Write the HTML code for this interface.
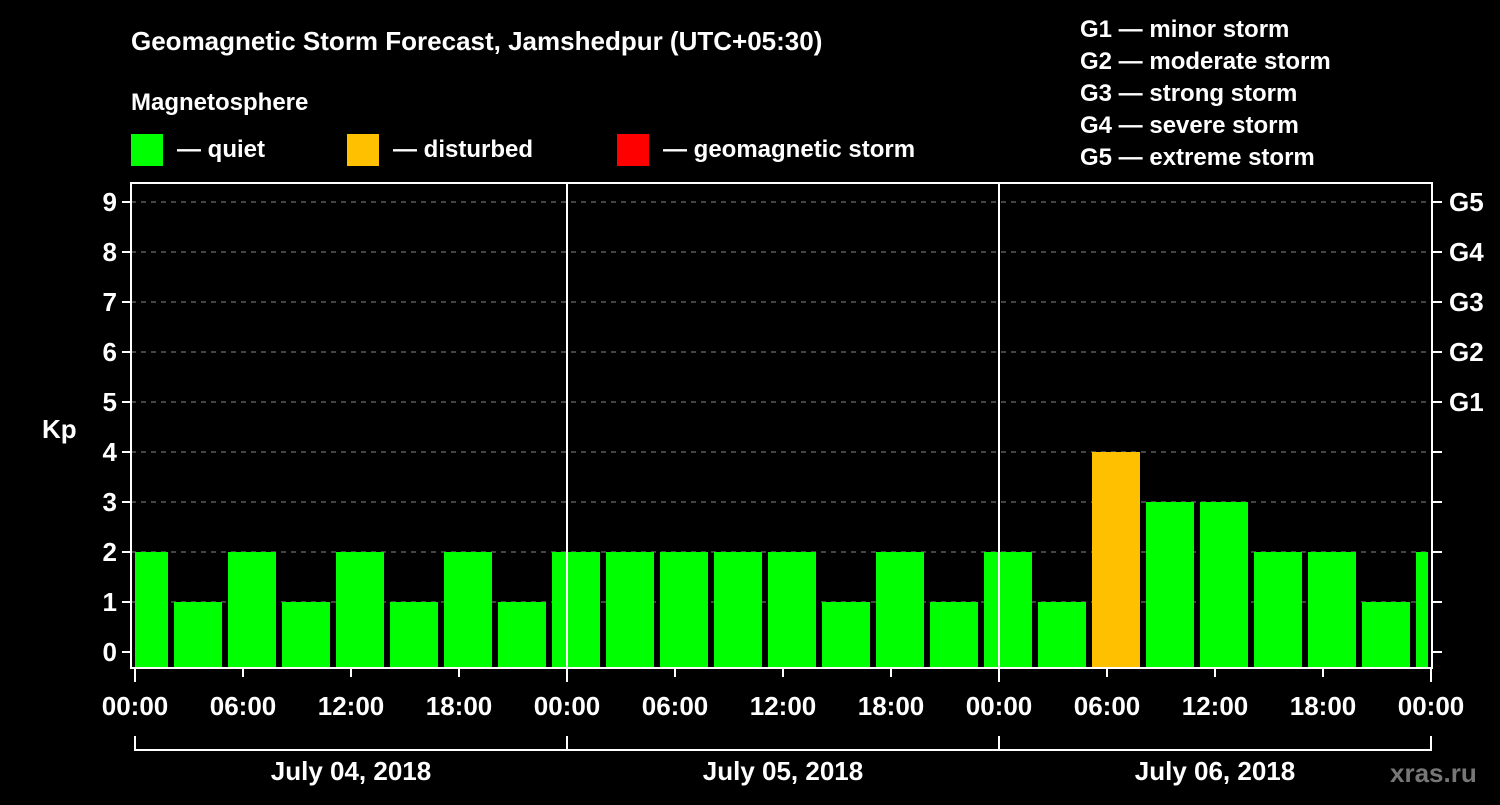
<!DOCTYPE html>
<html><head><meta charset="utf-8"><style>
body{margin:0;background:#000;}
svg text{font-family:"Liberation Sans",Arial,sans-serif;font-weight:bold;fill:#fff;}
</style></head><body>
<svg id="c" width="1500" height="800" xmlns="http://www.w3.org/2000/svg">
<rect width="1500" height="800" fill="#000"/>
<text x="131" y="50" font-size="26">Geomagnetic Storm Forecast, Jamshedpur (UTC+05:30)</text>
<text x="131" y="110" font-size="24">Magnetosphere</text>
<rect x="131" y="134" width="32" height="32" fill="#00ff00"/>
<text x="177" y="157" font-size="24">— quiet</text>
<rect x="347" y="134" width="32" height="32" fill="#ffc000"/>
<text x="393" y="157" font-size="24">— disturbed</text>
<rect x="617" y="134" width="32" height="32" fill="#ff0000"/>
<text x="663" y="157" font-size="24">— geomagnetic storm</text>
<g font-size="24">
<text x="1080" y="37">G1 — minor storm</text>
<text x="1080" y="69">G2 — moderate storm</text>
<text x="1080" y="101">G3 — strong storm</text>
<text x="1080" y="133">G4 — severe storm</text>
<text x="1080" y="165">G5 — extreme storm</text>
</g>
<text x="42" y="438" font-size="26">Kp</text>
<text x="1390" y="782" font-size="26" style="fill:#777">xras.ru</text>
<g id="g"></g>
</svg>
<script>
const kpValues=[2,1,2,1,2,1,2,1,2,2,2,2,2,1,2,1,2,1,4,3,3,2,2,1,2];
const yTicks=[0,1,2,3,4,5,6,7,8,9];
const gLabels=["G1","G2","G3","G4","G5"];
const xTickLabels=["00:00","06:00","12:00","18:00","00:00","06:00","12:00","18:00","00:00","06:00","12:00","18:00","00:00"];
const dayLabels=["July 04, 2018","July 05, 2018","July 06, 2018"];
const firstBarHour=-0.8333, barStepHours=3, barWidthHours=2.6667;
const X0=135,PXH=18,L=131,R=1432,T=183,B=668;
const x=h=>X0+h*PXH, y=v=>652-v*50;
const ns="http://www.w3.org/2000/svg",g=document.getElementById('g');
function mk(t,a,txt){const e=document.createElementNS(ns,t);for(const k in a)e.setAttribute(k,a[k]);if(txt!==undefined)e.textContent=txt;g.appendChild(e);return e;}
// clip
const cp=mk('clipPath',{id:'pc'});const cr=document.createElementNS(ns,'rect');cr.setAttribute('x',X0);cr.setAttribute('y',T);cr.setAttribute('width',1428-X0);cr.setAttribute('height',B-T);cp.appendChild(cr);
yTicks.forEach(v=>{
 if(v>0){const l=mk('line',{x1:L,x2:R,y1:y(v),y2:y(v),stroke:'#888','stroke-dasharray':'5,5','stroke-width':1});
 }
 const t=mk('line',{x1:L-9,x2:L,y1:y(v),y2:y(v),stroke:'#fff','stroke-width':2});
 
 const t2=mk('line',{x1:R,x2:R+10,y1:y(v),y2:y(v),stroke:'#fff','stroke-width':2});
 
 const tx=mk('text',{x:L-14,y:y(v)+9,'text-anchor':'end','font-size':26},String(v));
 
});
gLabels.forEach((s,i)=>{const tx=mk('text',{x:R+17,y:y(5+i)+9,'font-size':26},s);
 });
kpValues.forEach((v,i)=>{
 const h=firstBarHour+i*barStepHours;
 const col=v>=5?'#ff0000':(v>=4?'#ffc000':'#00ff00');
 const r=mk('rect',{x:x(h),y:y(v),width:barWidthHours*PXH,height:B-y(v),fill:col,'clip-path':'url(#pc)'});
 
});
[1,2].forEach(d=>{const l=mk('line',{x1:x(d*24),x2:x(d*24),y1:T,y2:B,stroke:'#fff','stroke-width':2});
 });
const fr=mk('rect',{x:L,y:T,width:R-L,height:B-T,fill:'none',stroke:'#fff','stroke-width':2});

xTickLabels.forEach((s,i)=>{const h=i*6;
 const t=mk('line',{x1:x(h),x2:x(h),y1:B,y2:B+(i%4==0?14:9),stroke:'#fff','stroke-width':2});
 
 const tx=mk('text',{x:x(h),y:715,'text-anchor':'middle','font-size':26},s);
 });
const br=mk('path',{d:`M${x(0)},736V750H${x(72)}V736M${x(24)},736V750M${x(48)},736V750`,fill:'none',stroke:'#fff','stroke-width':2});

dayLabels.forEach((s,i)=>{const tx=mk('text',{x:x(i*24+12),y:780,'text-anchor':'middle','font-size':26},s);
 });
</script>
</body></html>
